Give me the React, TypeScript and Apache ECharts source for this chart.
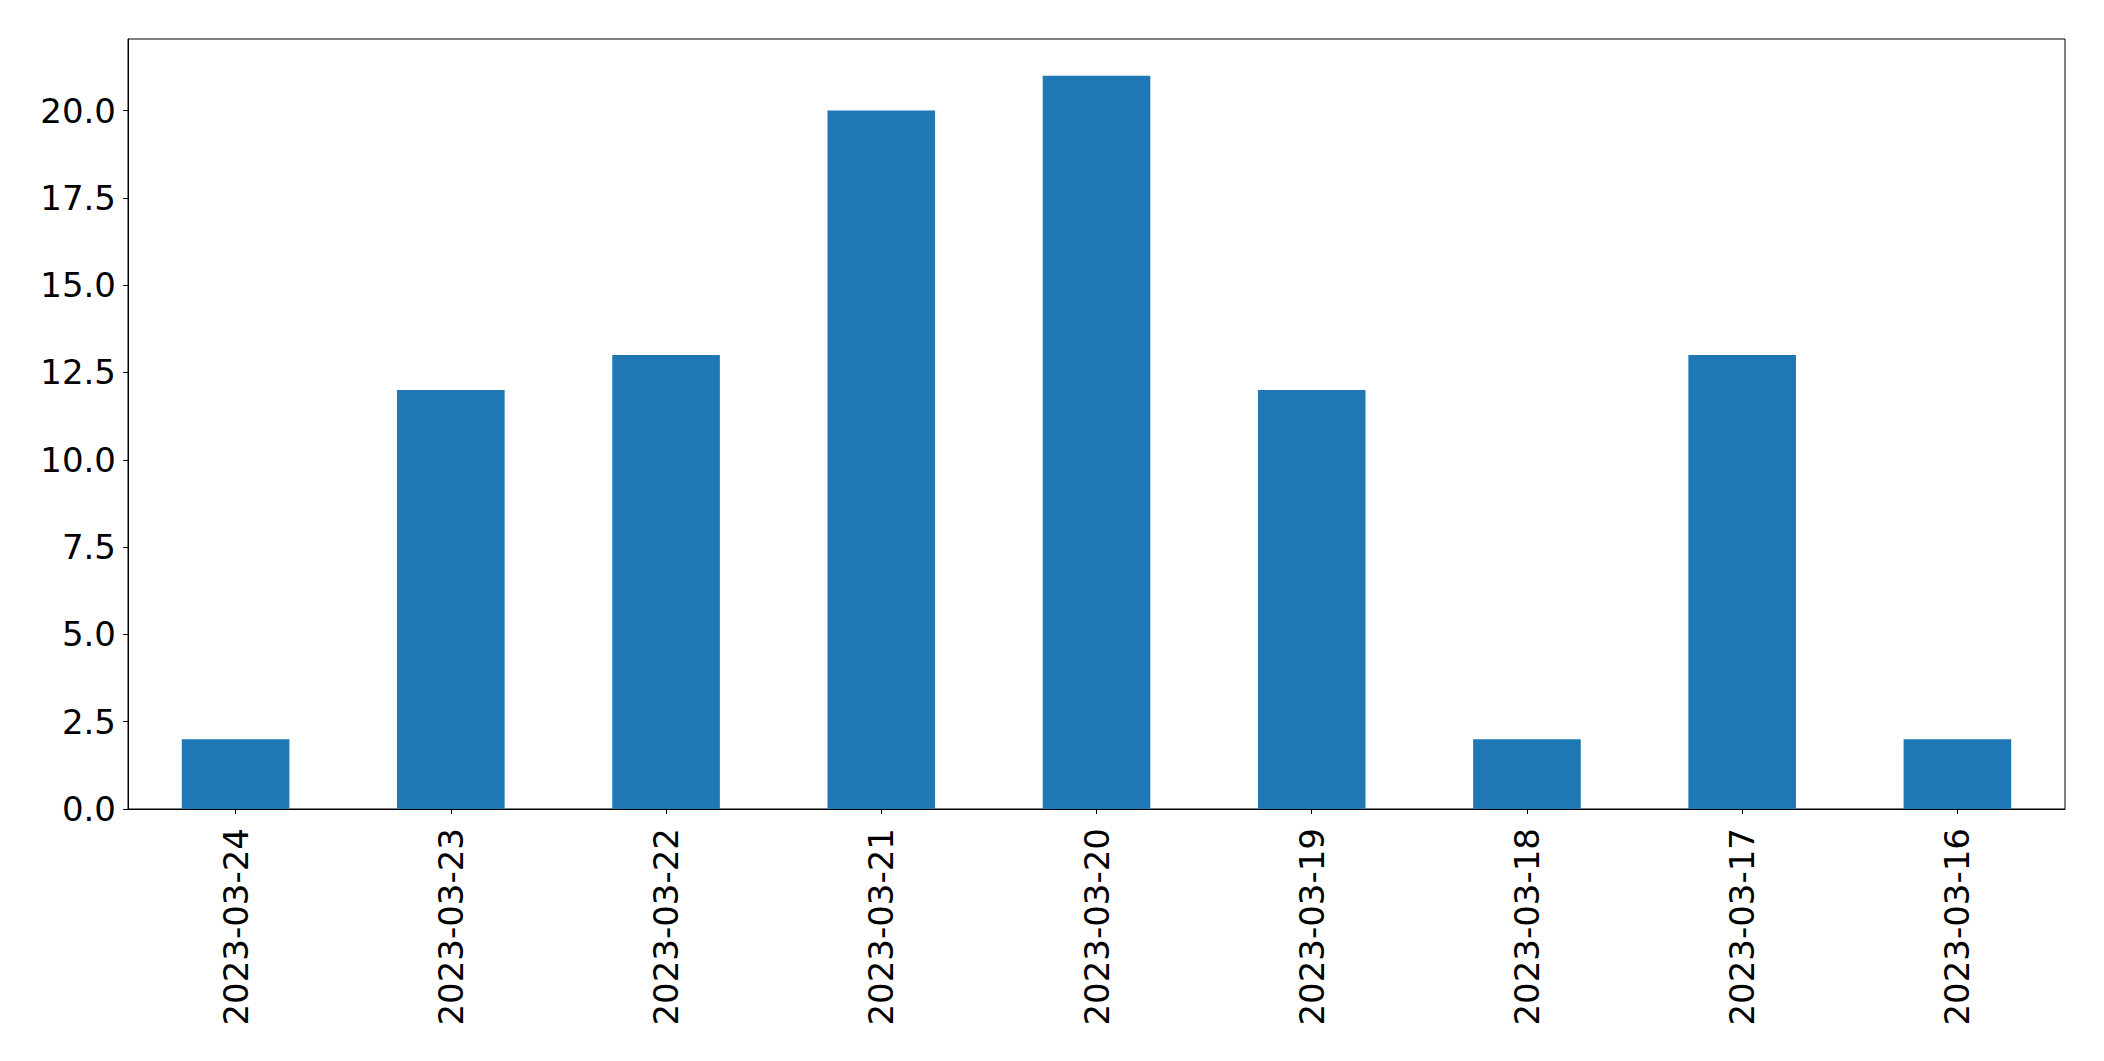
import React, { useEffect, useRef } from "react";
import * as echarts from "echarts";

const categories = [
  "2023-03-24",
  "2023-03-23",
  "2023-03-22",
  "2023-03-21",
  "2023-03-20",
  "2023-03-19",
  "2023-03-18",
  "2023-03-17",
  "2023-03-16",
];
const values = [2, 12, 13, 20, 21, 12, 2, 13, 2];
const yTicks = [0, 2.5, 5, 7.5, 10, 12.5, 15, 17.5, 20];
const yMax = 22.05;

export default function App() {
  const ref = useRef<HTMLDivElement>(null);
  useEffect(() => {
    document.body.style.margin = "0";
    if (!ref.current) return;
    const chart = echarts.init(ref.current, undefined, { renderer: "svg" });
    const font = "DejaVu Sans";
    chart.setOption({
      animation: false,
      backgroundColor: "#ffffff",
      grid: {
        left: 128,
        top: 39,
        right: 39,
        bottom: 252,
        show: true,
        borderColor: "#000000",
        borderWidth: 1,
        containLabel: false,
      },
      xAxis: {
        type: "category",
        data: categories,
        boundaryGap: true,
        axisLine: { show: true, lineStyle: { color: "#000000", width: 1 } },
        axisTick: {
          show: true,
          alignWithLabel: true,
          length: 5,
          lineStyle: { color: "#000000", width: 1 },
        },
        axisLabel: {
          rotate: 90,
          margin: 19,
          fontSize: 34,
          fontFamily: font,
          color: "#000000",
          interval: 0,
        },
        splitLine: { show: false },
      },
      yAxis: {
        type: "value",
        min: 0,
        max: yMax,
        axisLine: { show: true, lineStyle: { color: "#000000", width: 1 } },
        axisTick: {
          show: true,
          length: 5,
          lineStyle: { color: "#000000", width: 1 },
          customValues: yTicks,
        },
        axisLabel: {
          margin: 12,
          fontSize: 34,
          fontFamily: font,
          color: "#000000",
          customValues: yTicks,
          formatter: (v: number) => v.toFixed(1),
        },
        splitLine: { show: false },
      },
      series: [
        {
          type: "bar",
          data: values,
          barWidth: "50%",
          itemStyle: { color: "#1f77b4" },
        },
      ],
    });
    return () => chart.dispose();
  }, []);
  return <div ref={ref} style={{ width: 2104, height: 1061 }} />;
}
